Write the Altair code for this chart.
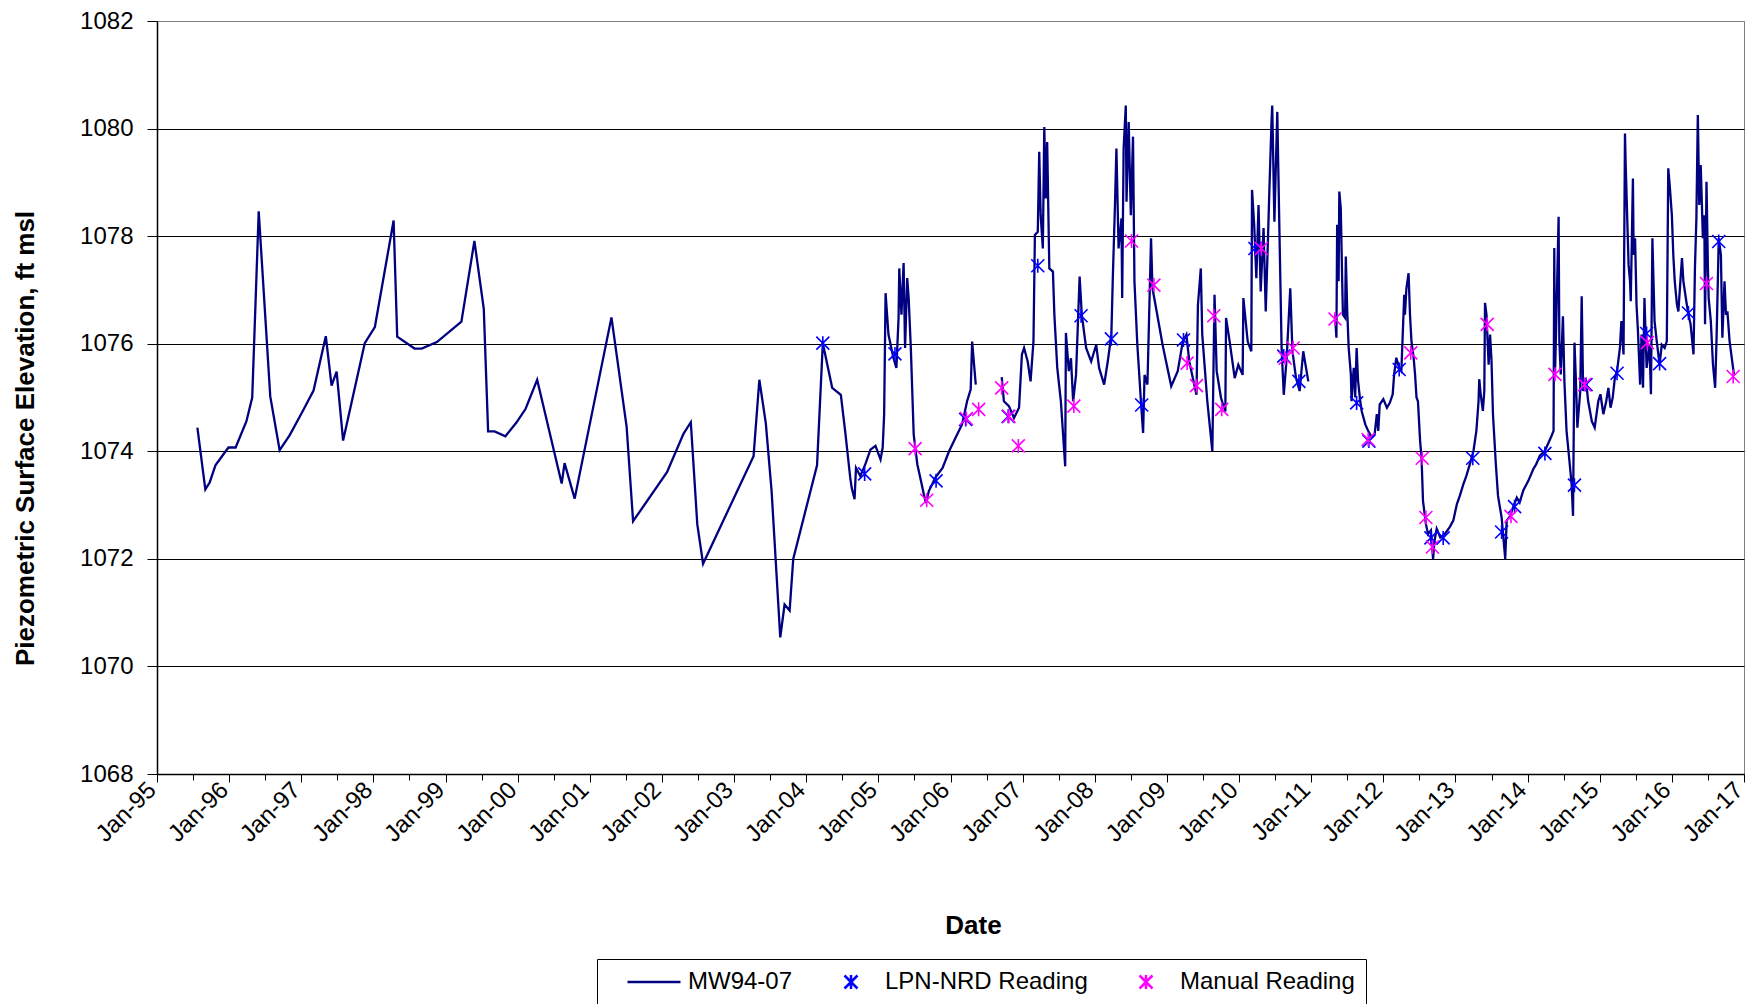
import json
import altair as alt
import pandas as pd

SERIES = ["MW94-07", "LPN-NRD Reading", "Manual Reading"]
COLORS = ["#000080", "#0000FF", "#FF00FF"]
X_LABELS = ["Jan-95", "Jan-96", "Jan-97", "Jan-98", "Jan-99", "Jan-00", "Jan-01",
            "Jan-02", "Jan-03", "Jan-04", "Jan-05", "Jan-06", "Jan-07", "Jan-08",
            "Jan-09", "Jan-10", "Jan-11", "Jan-12", "Jan-13", "Jan-14", "Jan-15",
            "Jan-16", "Jan-17"]
Y_TICKS = [1068, 1070, 1072, 1074, 1076, 1078, 1080, 1082]

# MW94-07 record, segment 1 (1995 - mid 2006)
seg1_year = [1995.56, 1995.67, 1995.73, 1995.81, 1995.99, 1996.09, 1996.24, 1996.32, 1996.41, 1996.57,
             1996.70, 1996.84, 1997.01, 1997.17, 1997.34, 1997.42, 1997.49, 1997.58, 1997.88, 1998.02,
             1998.28, 1998.33, 1998.57, 1998.67, 1998.88, 1999.22, 1999.40, 1999.53, 1999.59, 1999.68,
             1999.83, 1999.98, 2000.11, 2000.27, 2000.61, 2000.65, 2000.79, 2001.30, 2001.51, 2001.60,
             2002.07, 2002.30, 2002.40, 2002.49, 2002.57, 2003.27, 2003.35, 2003.44, 2003.52, 2003.64,
             2003.70, 2003.77, 2003.82, 2004.15, 2004.23, 2004.36, 2004.48, 2004.54, 2004.61, 2004.63,
             2004.67, 2004.69, 2004.75, 2004.82, 2004.89, 2004.96, 2005.03, 2005.06, 2005.08, 2005.10,
             2005.14, 2005.21, 2005.25, 2005.28, 2005.29, 2005.32, 2005.35, 2005.37, 2005.40, 2005.42,
             2005.45, 2005.49, 2005.54, 2005.59, 2005.63, 2005.66, 2005.70, 2005.79, 2005.89, 2005.98,
             2006.07, 2006.16, 2006.23, 2006.28, 2006.30, 2006.35]
seg1_val = [1074.44, 1073.29, 1073.42, 1073.74, 1074.07, 1074.07, 1074.56, 1075.00, 1078.46, 1075.02,
            1074.02, 1074.30, 1074.72, 1075.13, 1076.14, 1075.22, 1075.48, 1074.20, 1076.01, 1076.31,
            1078.29, 1076.13, 1075.91, 1075.91, 1076.03, 1076.41, 1077.91, 1076.65, 1074.37, 1074.37,
            1074.28, 1074.53, 1074.79, 1075.33, 1073.40, 1073.78, 1073.12, 1076.49, 1074.46, 1072.70,
            1073.61, 1074.33, 1074.54, 1072.64, 1071.91, 1073.91, 1075.33, 1074.52, 1073.26, 1070.54,
            1071.15, 1071.04, 1072.00, 1073.74, 1076.01, 1075.18, 1075.05, 1074.37, 1073.51, 1073.32,
            1073.11, 1073.69, 1073.54, 1073.76, 1074.03, 1074.10, 1073.85, 1074.07, 1074.68, 1076.94,
            1076.17, 1075.73, 1075.55, 1076.48, 1077.40, 1076.54, 1077.50, 1075.92, 1077.22, 1076.85,
            1075.92, 1074.31, 1073.76, 1073.45, 1073.20, 1073.04, 1073.26, 1073.51, 1073.69, 1074.00,
            1074.25, 1074.50, 1074.93, 1075.15, 1076.04, 1075.24]

# segment 2 (late 2006 - 2010)
seg2_year = [2006.71, 2006.74, 2006.81, 2006.88, 2006.95, 2006.99, 2007.02, 2007.07, 2007.11, 2007.15,
             2007.17, 2007.21, 2007.23, 2007.25, 2007.28, 2007.30, 2007.32, 2007.34, 2007.37, 2007.42,
             2007.44, 2007.48, 2007.53, 2007.59, 2007.60, 2007.64, 2007.67, 2007.70, 2007.74, 2007.79,
             2007.82, 2007.88, 2007.95, 2008.02, 2008.06, 2008.13, 2008.18, 2008.23, 2008.25, 2008.28,
             2008.30, 2008.33, 2008.37, 2008.38, 2008.40, 2008.43, 2008.44, 2008.47, 2008.50, 2008.53,
             2008.55, 2008.59, 2008.64, 2008.67, 2008.69, 2008.73, 2008.78, 2008.80, 2008.85, 2008.94,
             2009.06, 2009.15, 2009.22, 2009.27, 2009.31, 2009.36, 2009.41, 2009.43, 2009.47, 2009.49,
             2009.56, 2009.63, 2009.66, 2009.69, 2009.75, 2009.81, 2009.82, 2009.87, 2009.94, 2009.99,
             2010.05, 2010.06, 2010.12, 2010.17, 2010.18, 2010.21, 2010.24, 2010.27, 2010.30, 2010.34,
             2010.37, 2010.40, 2010.42, 2010.45, 2010.46, 2010.49, 2010.53, 2010.56, 2010.59, 2010.62,
             2010.66, 2010.71, 2010.74, 2010.79, 2010.84, 2010.89, 2010.96]
seg2_val = [1075.38, 1074.93, 1074.84, 1074.62, 1074.81, 1075.80, 1075.92, 1075.67, 1075.30, 1076.04,
            1078.02, 1078.08, 1079.57, 1078.39, 1077.77, 1080.03, 1078.70, 1079.75, 1077.40, 1077.34,
            1076.54, 1075.55, 1074.93, 1073.72, 1076.20, 1075.49, 1075.73, 1074.93, 1075.42, 1077.25,
            1076.54, 1075.92, 1075.67, 1075.98, 1075.55, 1075.24, 1075.67, 1076.17, 1077.22, 1078.58,
            1079.63, 1077.77, 1078.33, 1076.85, 1079.63, 1080.43, 1078.64, 1080.12, 1078.39, 1079.85,
            1077.16, 1075.98, 1074.93, 1074.34, 1075.42, 1075.24, 1077.96, 1077.03, 1076.66, 1075.98,
            1075.21, 1075.49, 1076.04, 1076.17, 1075.67, 1075.36, 1075.05, 1076.72, 1077.40, 1076.17,
            1074.93, 1074.00, 1076.91, 1075.49, 1074.99, 1074.74, 1076.48, 1076.04, 1075.36, 1075.61,
            1075.42, 1076.85, 1076.04, 1075.86, 1078.86, 1078.21, 1077.22, 1078.58, 1076.97, 1078.15,
            1076.60, 1077.90, 1078.83, 1080.12, 1080.43, 1078.27, 1080.31, 1078.08, 1075.92, 1075.05,
            1075.73, 1077.03, 1075.86, 1075.36, 1075.12, 1075.86, 1075.30]

# segment 3 (2011 - 2016)
seg3_year = [2011.33, 2011.35, 2011.36, 2011.38, 2011.39, 2011.41, 2011.43, 2011.44, 2011.47, 2011.48,
             2011.50, 2011.52, 2011.55, 2011.56, 2011.57, 2011.59, 2011.61, 2011.63, 2011.65, 2011.68,
             2011.70, 2011.75, 2011.79, 2011.84, 2011.88, 2011.91, 2011.93, 2011.95, 2012.00, 2012.05,
             2012.09, 2012.13, 2012.15, 2012.18, 2012.22, 2012.25, 2012.29, 2012.30, 2012.32, 2012.35,
             2012.37, 2012.39, 2012.42, 2012.44, 2012.46, 2012.48, 2012.51, 2012.53, 2012.55, 2012.59,
             2012.62, 2012.66, 2012.69, 2012.71, 2012.74, 2012.79, 2012.85, 2012.92, 2012.97, 2013.02,
             2013.06, 2013.11, 2013.15, 2013.20, 2013.25, 2013.29, 2013.32, 2013.33, 2013.35, 2013.38,
             2013.40, 2013.41, 2013.43, 2013.46, 2013.48, 2013.50, 2013.52, 2013.56, 2013.59, 2013.64,
             2013.69, 2013.71, 2013.76, 2013.80, 2013.85, 2013.89, 2013.94, 2014.01, 2014.08, 2014.12,
             2014.17, 2014.24, 2014.29, 2014.33, 2014.36, 2014.37, 2014.38, 2014.40, 2014.43, 2014.44,
             2014.46, 2014.49, 2014.51, 2014.54, 2014.58, 2014.61, 2014.63, 2014.65, 2014.67, 2014.69,
             2014.73, 2014.75, 2014.77, 2014.81, 2014.84, 2014.89, 2014.93, 2014.98, 2015.01, 2015.05,
             2015.09, 2015.12, 2015.15, 2015.18, 2015.21, 2015.24, 2015.28, 2015.30, 2015.33, 2015.35,
             2015.36, 2015.40, 2015.42, 2015.43, 2015.46, 2015.47, 2015.49, 2015.51, 2015.53, 2015.56,
             2015.58, 2015.60, 2015.62, 2015.65, 2015.69, 2015.71, 2015.73, 2015.76, 2015.79, 2015.83,
             2015.86, 2015.90, 2015.93, 2015.95, 2015.97, 2016.00, 2016.02, 2016.04, 2016.07, 2016.09,
             2016.14, 2016.16, 2016.20, 2016.23, 2016.26, 2016.30, 2016.32, 2016.34, 2016.36, 2016.38,
             2016.40, 2016.43, 2016.45, 2016.46, 2016.48, 2016.50, 2016.51, 2016.54, 2016.57, 2016.60,
             2016.62, 2016.65, 2016.68, 2016.70, 2016.73, 2016.75, 2016.77, 2016.80, 2016.86]
seg3_val = [1076.54, 1076.11, 1078.21, 1077.16, 1078.83, 1078.52, 1077.16, 1076.54, 1076.48, 1077.62,
            1076.60, 1075.92, 1075.43, 1074.93, 1075.18, 1075.55, 1075.00, 1075.92, 1075.31, 1074.93,
            1074.75, 1074.50, 1074.38, 1074.26, 1074.32, 1074.69, 1074.38, 1074.87, 1074.97, 1074.81,
            1074.90, 1075.06, 1075.43, 1075.74, 1075.55, 1075.49, 1076.91, 1076.54, 1077.03, 1077.31,
            1076.54, 1076.05, 1075.74, 1075.43, 1075.00, 1074.93, 1074.19, 1073.88, 1073.08, 1072.65,
            1072.46, 1072.53, 1072.00, 1072.34, 1072.56, 1072.40, 1072.46, 1072.59, 1072.71, 1073.02,
            1073.17, 1073.39, 1073.54, 1073.76, 1074.01, 1074.38, 1074.93, 1075.34, 1075.06, 1074.75,
            1075.12, 1076.76, 1076.54, 1075.61, 1076.17, 1075.68, 1074.69, 1073.76, 1073.17, 1072.77,
            1072.00, 1072.71, 1072.80, 1072.96, 1073.14, 1073.05, 1073.27, 1073.45, 1073.67, 1073.76,
            1073.92, 1074.01, 1074.16, 1074.28, 1074.38, 1077.78, 1075.43, 1076.54, 1078.36, 1076.05,
            1075.43, 1076.51, 1075.31, 1074.38, 1073.82, 1073.39, 1072.80, 1076.02, 1075.31, 1074.44,
            1075.12, 1076.88, 1075.12, 1075.31, 1074.93, 1074.56, 1074.44, 1074.93, 1075.06, 1074.69,
            1074.93, 1075.18, 1074.81, 1075.00, 1075.37, 1075.49, 1075.92, 1076.42, 1075.80, 1079.91,
            1079.32, 1077.47, 1077.16, 1076.79, 1079.07, 1077.65, 1077.96, 1076.73, 1076.23, 1075.24,
            1076.17, 1075.18, 1076.85, 1075.55, 1075.98, 1075.06, 1077.96, 1076.42, 1076.05, 1075.61,
            1075.98, 1075.92, 1076.05, 1079.26, 1078.95, 1078.39, 1077.65, 1077.16, 1076.73, 1076.60,
            1077.59, 1077.16, 1076.79, 1076.54, 1076.36, 1075.80, 1077.41, 1078.33, 1080.25, 1078.58,
            1079.32, 1077.96, 1078.39, 1076.36, 1079.01, 1077.41, 1076.85, 1076.42, 1075.61, 1075.18,
            1076.11, 1077.96, 1077.65, 1076.11, 1077.16, 1076.54, 1076.60, 1076.05, 1075.43]

# LPN-NRD readings
lpn_year = [2004.23, 2004.81, 2005.23, 2005.80, 2006.21, 2006.80, 2007.21, 2007.81, 2008.23, 2008.65,
            2009.23, 2010.22, 2010.62, 2010.83, 2011.63, 2011.80, 2012.22, 2012.66, 2012.83, 2013.24,
            2013.64, 2013.82, 2014.24, 2014.65, 2014.81, 2015.24, 2015.65, 2015.83, 2016.23, 2016.65]
lpn_val = [1076.01, 1073.58, 1075.81, 1073.45, 1074.59, 1074.65, 1077.45, 1076.52, 1076.09, 1074.86,
           1076.07, 1077.77, 1075.77, 1075.30, 1074.90, 1074.19, 1075.52, 1072.39, 1072.39, 1073.87,
           1072.50, 1072.97, 1073.96, 1073.37, 1075.24, 1075.45, 1076.19, 1075.63, 1076.57, 1077.90]

# Manual readings
man_year = [2005.51, 2005.67, 2006.22, 2006.39, 2006.71, 2006.81, 2006.94, 2007.71, 2008.51, 2008.82,
            2009.28, 2009.41, 2009.65, 2009.76, 2010.31, 2010.64, 2010.75, 2011.33, 2011.79, 2012.38,
            2012.54, 2012.59, 2012.68, 2013.44, 2013.77, 2014.38, 2014.79, 2015.66, 2016.48, 2016.85]
man_val = [1074.05, 1073.09, 1074.61, 1074.78, 1075.18, 1074.65, 1074.10, 1074.84, 1077.91, 1077.09,
           1075.64, 1075.22, 1076.52, 1074.78, 1077.77, 1075.73, 1075.92, 1076.46, 1074.22, 1075.83,
           1073.87, 1072.77, 1072.22, 1076.36, 1072.79, 1075.43, 1075.24, 1076.02, 1077.12, 1075.39]

line_df = pd.concat([
    pd.DataFrame({"year": seg1_year, "val": seg1_val, "seg": 1}),
    pd.DataFrame({"year": seg2_year, "val": seg2_val, "seg": 2}),
    pd.DataFrame({"year": seg3_year, "val": seg3_val, "seg": 3}),
], ignore_index=True)
line_df["series"] = SERIES[0]

pts_df = pd.concat([
    pd.DataFrame({"year": lpn_year, "val": lpn_val, "series": SERIES[1]}),
    pd.DataFrame({"year": man_year, "val": man_val, "series": SERIES[2]}),
], ignore_index=True)

FONT = "Liberation Sans"
X_TICKS = [1995 + 0.5 * i for i in range(2 * (len(X_LABELS) - 1) + 1)]
label_expr = ("datum.value % 1 === 0 ? " + json.dumps(X_LABELS)
              + "[round(datum.value - 1995)] : ''")

LINE_SYM = "M-2.65,0L2.65,0"
AST_SYM = "M-0.65,-0.65L0.65,0.65M-0.65,0.65L0.65,-0.65M0,-0.7L0,0.7"

legend = alt.Legend(
    orient="none", legendX=440, legendY=938, direction="horizontal", columns=3,
    title=".", titleOpacity=0, titleOrient="left", titlePadding=31,
    titleFontSize=10,
    strokeColor="black", fillColor="white", padding=11,
    labelFont=FONT, labelFontSize=24, labelColor="black", labelOffset=22,
    columnPadding=46, symbolSize=400, symbolStrokeWidth=2.5, labelLimit=400,
)

color = alt.Color("series:N", scale=alt.Scale(domain=SERIES, range=COLORS), legend=legend)

x = alt.X(
    "year:Q",
    scale=alt.Scale(domain=[1995, 2017], nice=False, zero=False),
    axis=alt.Axis(
        values=X_TICKS, labelExpr=label_expr, labelAngle=-45, labelFont=FONT,
        labelFontSize=24, labelColor="black", labelPadding=4, labelOverlap=False,
        labelFlush=False, labelBound=False, labelAlign="right", labelBaseline="middle",
        labelOffset=-5,
        tickColor="black", tickWidth=1,
        tickSize={"condition": {"test": "datum.value % 1 === 0", "value": 8}, "value": 6},
        domainColor="black", domainWidth=1.5, grid=False,
        title="Date", titleFont=FONT, titleFontSize=26, titleFontWeight="bold",
        titleColor="black", titleX=816, titleY=151, titleBaseline="middle", titleAlign="center",
    ),
)
y = alt.Y(
    "val:Q",
    scale=alt.Scale(domain=[1068, 1082], nice=False, zero=False),
    axis=alt.Axis(
        values=Y_TICKS, format="d", labelFont=FONT, labelFontSize=24, labelColor="black",
        labelPadding=14, tickColor="black", tickSize=10, tickWidth=1,
        domainColor="black", domainWidth=1.5,
        grid=True, gridWidth=1,
        gridColor={"condition": {"test": "datum.value === 1082", "value": "#808080"}, "value": "black"},
        title="Piezometric Surface Elevation, ft msl", titleFont=FONT, titleFontSize=26,
        titleFontWeight="bold", titleColor="black", titleX=-132, titleY=417,
        titleAngle=270, titleAlign="center", titleBaseline="middle",
    ),
)

line = alt.Chart(line_df).mark_line(strokeWidth=2.3).encode(
    x=x, y=y, detail="seg:N", color=color,
)
points = alt.Chart(pts_df).mark_point(filled=False, strokeWidth=1.6, size=400, opacity=1).encode(
    x=x, y=y, color=color,
    shape=alt.Shape("series:N", scale=alt.Scale(domain=SERIES, range=[LINE_SYM, AST_SYM, AST_SYM]),
                    legend=legend),
)

chart = alt.layer(line, points).properties(
    width=1587, height=753,
    autosize=alt.AutoSizeParams(type="none"),
    padding={"left": 149, "top": 13, "right": 9, "bottom": 230},
    background="white",
).configure_view(stroke="#808080", strokeWidth=1)

chart.save("out.html", embed_options={"renderer": "svg", "actions": False})
